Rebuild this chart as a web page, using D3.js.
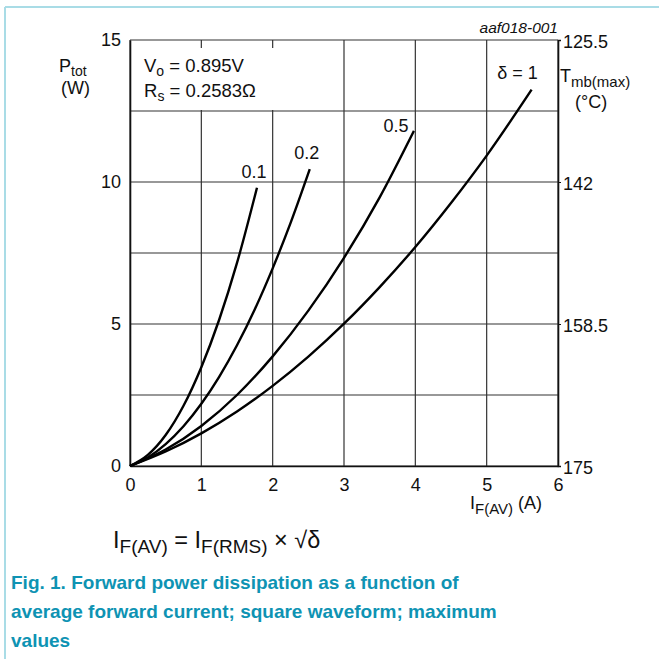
<!DOCTYPE html>
<html>
<head>
<meta charset="utf-8">
<script src="https://cdn.jsdelivr.net/npm/d3@7"></script>
<style>
  body { margin: 0; background: #fff; }
  svg { font-family: "Liberation Sans", Arial, sans-serif; }
</style>
</head>
<body>
<div id="chart"></div>
<script>
var svgWidth = 659;
var svgHeight = 659;

// x = I_F(AV) in A, y = P_tot in W
var delta01 = [[0, 0], [0.25, 0.39], [0.5, 1.09], [0.75, 2.12], [1, 3.48], [1.25, 5.15], [1.5, 7.15], [1.78, 9.8]];
var delta02 = [[0, 0], [0.25, 0.3], [0.5, 0.77], [0.75, 1.4], [1, 2.19], [1.25, 3.14], [1.5, 4.25], [1.75, 5.52], [2, 6.96], [2.25, 8.55], [2.52, 10.45]];
var delta05 = [[0, 0], [0.5, 0.58], [1, 1.41], [1.5, 2.5], [2, 3.86], [2.5, 5.47], [3, 7.33], [3.5, 9.46], [3.98, 11.8]];
var delta1 = [[0, 0], [0.5, 0.51], [1, 1.15], [1.5, 1.92], [2, 2.82], [2.5, 3.85], [3, 5.01], [3.5, 6.3], [4, 7.71], [4.5, 9.26], [5, 10.93], [5.63, 13.25]];
var seriesNames = ["0.1", "0.2", "0.5", "δ = 1"];
var series = [delta01, delta02, delta05, delta1];

var xTicks = [0, 1, 2, 3, 4, 5, 6];
var yTicks = [0, 5, 10, 15];
var yGrid = [0, 2.5, 5, 7.5, 10, 12.5, 15];
var tempTicks = ["175", "158.5", "142", "125.5"];

var margin = { top: 40, left: 130 };
var width = 428;
var height = 426;

var svg = d3.select("#chart")
  .append("svg")
  .attr("width", svgWidth)
  .attr("height", svgHeight);

// light blue frame, top and left only
svg.append("line").attr("x1", 5).attr("x2", svgWidth).attr("y1", 7).attr("y2", 7)
  .attr("stroke", "#a9dce6").attr("stroke-width", 2);
svg.append("line").attr("x1", 5).attr("x2", 5).attr("y1", 7).attr("y2", svgHeight)
  .attr("stroke", "#a9dce6").attr("stroke-width", 2);

var chartGroup = svg.append("g")
  .attr("transform", `translate(${margin.left}, ${margin.top})`);

var x = d3.scaleLinear().domain([0, 6]).range([0, width]);
var y = d3.scaleLinear().domain([0, 15]).range([height, 0]);

// grid
chartGroup.selectAll(".vgrid").data(xTicks).enter().append("line")
  .attr("x1", d => x(d)).attr("x2", d => x(d))
  .attr("y1", 0).attr("y2", height)
  .attr("stroke", "#333").attr("stroke-width", 1.2);
chartGroup.selectAll(".hgrid").data(yGrid).enter().append("line")
  .attr("x1", 0).attr("x2", width)
  .attr("y1", d => y(d)).attr("y2", d => y(d))
  .attr("stroke", "#333").attr("stroke-width", 1.2);

// axes, drawn as frame with labels only
var bottomAxis = d3.axisBottom(x).tickValues(xTicks).tickSize(0).tickPadding(12).tickFormat(d3.format("d"));
var leftAxis = d3.axisLeft(y).tickValues(yTicks).tickSize(0).tickPadding(9).tickFormat(d3.format("d"));
var rightAxis = d3.axisRight(y).tickValues(yTicks).tickSize(3).tickPadding(2)
  .tickFormat((d, i) => tempTicks[i]);

function styleAxis(g) {
  g.select(".domain").attr("stroke", "#111").attr("stroke-width", 1.6);
  g.selectAll(".tick line").attr("stroke", "#111");
  g.selectAll("text").attr("font-size", 18).attr("fill", "#111")
    .attr("font-family", "Liberation Sans, Arial, sans-serif");
}

chartGroup.append("g").attr("transform", `translate(0, ${height})`).call(bottomAxis).call(styleAxis);
chartGroup.append("g").call(leftAxis).call(styleAxis);
chartGroup.append("g").attr("transform", `translate(${width}, 0)`).call(rightAxis).call(styleAxis)
  .selectAll(".tick text").attr("dy", "0.4em");

// parameter box
var box = chartGroup.append("g");
box.append("rect").attr("x", 6).attr("y", 8).attr("width", 142).attr("height", 62).attr("fill", "#fff");
var vo = box.append("text").attr("x", 14).attr("y", 32).attr("font-size", 18.5).attr("fill", "#111");
vo.append("tspan").text("V");
vo.append("tspan").attr("font-size", 14).attr("dy", 4).text("o");
vo.append("tspan").attr("dy", -4).text(" = 0.895V");
var rs = box.append("text").attr("x", 14).attr("y", 57).attr("font-size", 18.5).attr("fill", "#111");
rs.append("tspan").text("R");
rs.append("tspan").attr("font-size", 14).attr("dy", 4).text("s");
rs.append("tspan").attr("dy", -4).text(" = 0.2583Ω");

// curves
var line = d3.line().x(d => x(d[0])).y(d => y(d[1])).curve(d3.curveMonotoneX);
chartGroup.selectAll(".curve").data(series).enter().append("path")
  .attr("d", line)
  .attr("fill", "none")
  .attr("stroke", "#000")
  .attr("stroke-width", 2.4);

// curve labels placed near curve ends
var labelOffsets = [[-3, -10], [-3, -10], [-18, 1], [-14, -11]];
chartGroup.selectAll(".clabel").data(series).enter().append("text")
  .attr("x", (d, i) => x(d[d.length - 1][0]) + labelOffsets[i][0])
  .attr("y", (d, i) => y(d[d.length - 1][1]) + labelOffsets[i][1])
  .attr("text-anchor", "middle")
  .attr("font-size", 18)
  .attr("fill", "#111")
  .text((d, i) => seriesNames[i]);

// axis titles
var pt = svg.append("text").attr("x", 59).attr("y", 72).attr("font-size", 18).attr("fill", "#111");
pt.append("tspan").text("P");
pt.append("tspan").attr("font-size", 14).attr("dy", 4).text("tot");
svg.append("text").attr("x", 61).attr("y", 94).attr("font-size", 18).attr("fill", "#111").text("(W)");

var ta = svg.append("text").attr("x", 560).attr("y", 82).attr("font-size", 18).attr("fill", "#111");
ta.append("tspan").text("T");
ta.append("tspan").attr("font-size", 15).attr("dy", 5).text("mb(max)");
svg.append("text").attr("x", 575).attr("y", 108).attr("font-size", 18).attr("fill", "#111").text("(°C)");

var ia = svg.append("text").attr("x", 470).attr("y", 509).attr("font-size", 18).attr("fill", "#111");
ia.append("tspan").text("I");
ia.append("tspan").attr("font-size", 15).attr("dy", 5).text("F(AV)");
ia.append("tspan").attr("dy", -5).text(" (A)");

svg.append("text").attr("x", 558).attr("y", 33).attr("text-anchor", "end")
  .attr("font-size", 15.5).attr("font-style", "italic").attr("fill", "#111").text("aaf018-001");

// formula
var f = svg.append("text").attr("x", 113).attr("y", 548).attr("font-size", 23.5).attr("fill", "#111");
f.append("tspan").text("I");
f.append("tspan").attr("font-size", 19).attr("dy", 5).text("F(AV)");
f.append("tspan").attr("dy", -5).text(" = I");
f.append("tspan").attr("font-size", 19).attr("dy", 5).text("F(RMS)");
f.append("tspan").attr("dy", -5).text(" × √δ");

// caption
var caption = ["Fig. 1. Forward power dissipation as a function of",
  "average forward current; square waveform; maximum",
  "values"];
svg.selectAll(".cap").data(caption).enter().append("text")
  .attr("x", 11).attr("y", (d, i) => 589 + i * 29)
  .attr("font-size", 19).attr("font-weight", "bold").attr("fill", "#0e93b3")
  .text(d => d);
</script>
</body>
</html>
